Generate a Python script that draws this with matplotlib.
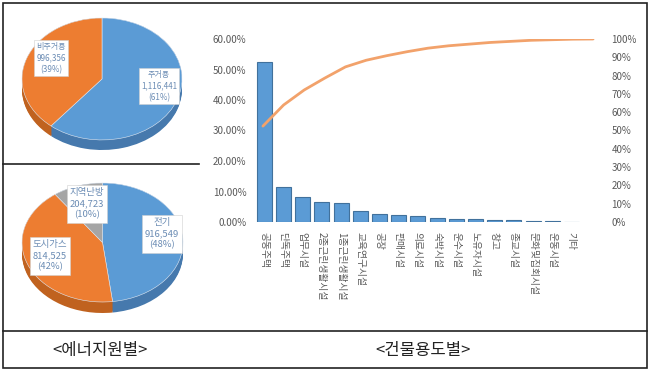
import numpy as np
import matplotlib
matplotlib.use("Agg")
import matplotlib.pyplot as plt
from matplotlib.lines import Line2D
from matplotlib.patches import Rectangle

plt.rcParams['font.family'] = ['Noto Sans CJK KR', 'DejaVu Sans']

# energy source pies
use_labels = ['주거용', '비주거용']
use_values = [1116441, 996356]
use_pct = [61, 39]

src_labels = ['전기', '도시가스', '지역난방']
src_values = [916549, 814525, 204723]
src_pct = [48, 42, 10]

# building use pareto (share, %)
bld_labels = ['공동주택', '단독주택', '업무시설', '2종근린생활시설', '1종근린생활시설',
              '교육연구시설', '공장', '판매시설', '의료시설', '숙박시설', '운수시설',
              '노유자시설', '창고', '종교시설', '문화및집회시설', '운동시설', '기타']
bld_share = [52.3, 11.5, 8.2, 6.5, 6.1, 3.6, 2.5, 2.2, 1.9, 1.3, 0.9,
             0.9, 0.6, 0.6, 0.3, 0.3, 0.1]

W, H = 650, 370
fig = plt.figure(figsize=(6.5, 3.7), dpi=100)


def fx(px):
    return px / W


def fy(py):
    return 1 - py / H


def pie3d(rect, values, colors, side_colors, depth):
    ax = fig.add_axes(rect)
    for d in np.linspace(depth, 0.0, 12):
        ax.pie(values, colors=side_colors, startangle=90, counterclock=False,
               center=(0, -d), wedgeprops=dict(linewidth=0))
    ax.pie(values, colors=colors, startangle=90, counterclock=False,
           wedgeprops=dict(edgecolor='#dfe8f3', linewidth=0.4))
    ax.set_aspect('auto')
    ax.set_xlim(-1, 1)
    ax.set_ylim(-1 - depth, 1)
    ax.axis('off')
    return ax


blue, orange, gray = '#5B9BD5', '#ED7D31', '#A5A5A5'
blue_s, orange_s, gray_s = '#4679AD', '#C0621F', '#868686'

# top pie: x 22..182, y 18..150 (wedges drawn from the printed percentages)
pie3d([fx(22), fy(150), fx(182) - fx(22), fy(18) - fy(150)],
      use_pct, [blue, orange], [blue_s, orange_s], 0.165)
# bottom pie: x 22..183, y 183..313
pie3d([fx(22), fy(313), fx(183) - fx(22), fy(183) - fy(313)],
      src_pct, [blue, orange, gray], [blue_s, orange_s, gray_s], 0.185)

lab_col = '#6b8cb4'
box = dict(boxstyle='square,pad=0.3', fc='white', ec='#d0d0d0', lw=0.4)

top_pos = [(159, 86), (51, 58)]
for (px, py), name, v, p in zip(top_pos, use_labels, use_values, use_pct):
    fig.text(fx(px), fy(py), f'{name}\n{v:,}\n({p}%)', ha='center', va='center',
             fontsize=5.8, color=lab_col, linespacing=1.35, bbox=box)

src_pos = [(162, 234), (50, 256), (87, 204)]
for (px, py), name, v, p in zip(src_pos, src_labels, src_values, src_pct):
    fig.text(fx(px), fy(py), f'{name}\n{v:,}\n({p}%)', ha='center', va='center',
             fontsize=6.8, color=lab_col, linespacing=1.3, bbox=box)

# pareto chart
ax = fig.add_axes([fx(252), fy(222), fx(603) - fx(252), fy(39) - fy(222)])
x = np.arange(len(bld_labels))
share = np.array(bld_share) / 100
ax.bar(x, share, width=0.78, color=blue, edgecolor='#41719C', linewidth=0.8)
ax.set_xlim(-0.64, 17.64)
ax.set_ylim(0, 0.6)
ax.set_yticks(np.arange(0, 0.61, 0.1))
ax.set_yticklabels([f'{v * 100:.2f}%' for v in np.arange(0, 0.61, 0.1)])
ax.set_xticks(x)
ax.set_xticklabels(bld_labels, rotation=270, va='top', ha='center')
ax.tick_params(axis='both', length=0, labelsize=7, labelcolor='#595959')
ax.tick_params(axis='y', pad=4)
ax.tick_params(axis='x', pad=7)
for s in ax.spines.values():
    s.set_visible(False)

cum = np.cumsum(bld_share) / np.sum(bld_share)
ax2 = ax.twinx()
ax3 = ax2.twiny()
ax3.plot(x, cum, color='#F2A26B', linewidth=2, solid_capstyle='round')
ax3.set_xlim(-0.53, 16.48)
ax2.set_ylim(0, 1.0)
ax3.set_ylim(0, 1.0)
ax2.set_yticks(np.arange(0, 1.01, 0.1))
ax2.set_yticklabels([f'{int(round(v * 100))}%' for v in np.arange(0, 1.01, 0.1)])
ax2.tick_params(axis='y', length=0, labelsize=7, labelcolor='#595959', pad=6)
ax3.set_xticks([])
for a in (ax2, ax3):
    for s in a.spines.values():
        s.set_visible(False)

# frame lines
fig.add_artist(Rectangle((fx(3), fy(368)), fx(647) - fx(3), fy(3) - fy(368),
                         transform=fig.transFigure, fill=False, ec='#222222', lw=1.2))
fig.add_artist(Line2D([fx(3), fx(199)], [fy(164), fy(164)],
                      transform=fig.transFigure, color='#222222', lw=1.2))
fig.add_artist(Line2D([fx(3), fx(647)], [fy(331), fy(331)],
                      transform=fig.transFigure, color='#222222', lw=1.2))

fig.text(fx(100), fy(350), '<에너지원별>', ha='center', va='center',
         fontsize=12, color='#222222')
fig.text(fx(423), fy(350), '<건물용도별>', ha='center', va='center',
         fontsize=12, color='#222222')

fig.savefig('out.png', dpi=100)
